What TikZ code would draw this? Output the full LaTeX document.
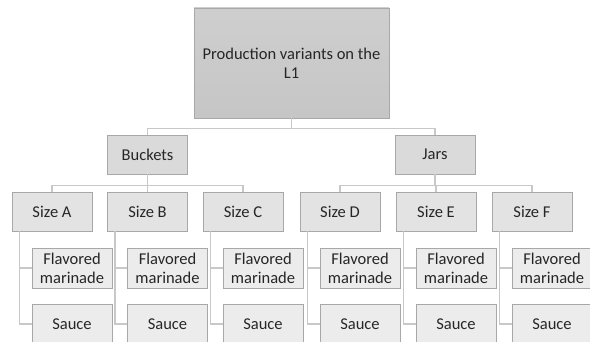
\documentclass[tikz,border=0pt]{standalone}
\usepackage{fontspec}
\setmainfont{Carlito}
\usetikzlibrary{calc}
\definecolor{boxline}{HTML}{A8A8A8}
\definecolor{linkline}{HTML}{C8C8C8}
\tikzset{
  box/.style={draw=boxline,line width=0.8pt,rectangle,inner sep=2pt,align=center,text=black!85,
    minimum width=80pt,minimum height=39pt,font=\fontsize{16.5}{19}\selectfont},
  rootbox/.style={box,top color=gray!38,bottom color=gray!45,minimum width=195pt,minimum height=110pt},
  groupbox/.style={box,fill=gray!29},
  sizebox/.style={box,fill=gray!22},
  leafbox/.style={box,fill=gray!15,minimum height=40pt},
  link/.style={draw=linkline,line width=1.5pt}
}
\begin{document}
\begin{tikzpicture}[x=1pt,y=-1pt]
    \useasboundingbox[fill=white] (0,0) rectangle (590,342);
    %% Top
    \node[rootbox] (root) at (291.5,63) {Production variants on the\\L1};
    \node[groupbox] (buck) at (147.5,154.5) {Buckets};
    \node[groupbox] (jars) at (435,154.5) {Jars};
    \draw[link] (root.south) -- ++(0,10) -| (buck.north);
    \draw[link] (root.south) -- ++(0,10) -| (jars.north);
    %% Sizes
    \node[sizebox] (sizeA) at (52,211.5) {Size A};
    \node[sizebox] (sizeB) at (147.5,211.5) {Size B};
    \node[sizebox] (sizeC) at (243,211.5) {Size C};
    \node[sizebox] (sizeD) at (340,211.5) {Size D};
    \node[sizebox] (sizeE) at (436,211.5) {Size E};
    \node[sizebox] (sizeF) at (532,211.5) {Size F};
    \draw[link] (buck.south) -- ++(0,11) -| (sizeA.north);
    \draw[link] (buck.south) -- ++(0,11) -| (sizeB.north);
    \draw[link] (buck.south) -- ++(0,11) -| (sizeC.north);
    \draw[link] (jars.south) -- ++(0,11) -| (sizeD.north);
    \draw[link] (jars.south) -- ++(0,11) -| (sizeE.north);
    \draw[link] (jars.south) -- ++(0,11) -| (sizeF.north);
    %% Marinade and sauce
    \node[leafbox] (marA) at (72,268) {Flavored\\marinade};
    \node[leafbox] (marB) at (167.5,268) {Flavored\\marinade};
    \node[leafbox] (marC) at (263,268) {Flavored\\marinade};
    \node[leafbox] (marD) at (360,268) {Flavored\\marinade};
    \node[leafbox] (marE) at (456,268) {Flavored\\marinade};
    \node[leafbox] (marF) at (552,268) {Flavored\\marinade};
    \node[leafbox] (sauA) at (72,324) {Sauce};
    \node[leafbox] (sauB) at (167.5,324) {Sauce};
    \node[leafbox] (sauC) at (263,324) {Sauce};
    \node[leafbox] (sauD) at (360,324) {Sauce};
    \node[leafbox] (sauE) at (456,324) {Sauce};
    \node[leafbox] (sauF) at (552,324) {Sauce};
    \draw[link] ($(sizeA.south west)+(8,0)$) |- (marA.west) ($(sizeA.south west)+(8,0)$) |- (sauA.west);
    \draw[link] ($(sizeB.south west)+(8,0)$) |- (marB.west) ($(sizeB.south west)+(8,0)$) |- (sauB.west);
    \draw[link] ($(sizeC.south west)+(8,0)$) |- (marC.west) ($(sizeC.south west)+(8,0)$) |- (sauC.west);
    \draw[link] ($(sizeD.south west)+(8,0)$) |- (marD.west) ($(sizeD.south west)+(8,0)$) |- (sauD.west);
    \draw[link] ($(sizeE.south west)+(8,0)$) |- (marE.west) ($(sizeE.south west)+(8,0)$) |- (sauE.west);
    \draw[link] ($(sizeF.south west)+(8,0)$) |- (marF.west) ($(sizeF.south west)+(8,0)$) |- (sauF.west);
\end{tikzpicture}
\end{document}
